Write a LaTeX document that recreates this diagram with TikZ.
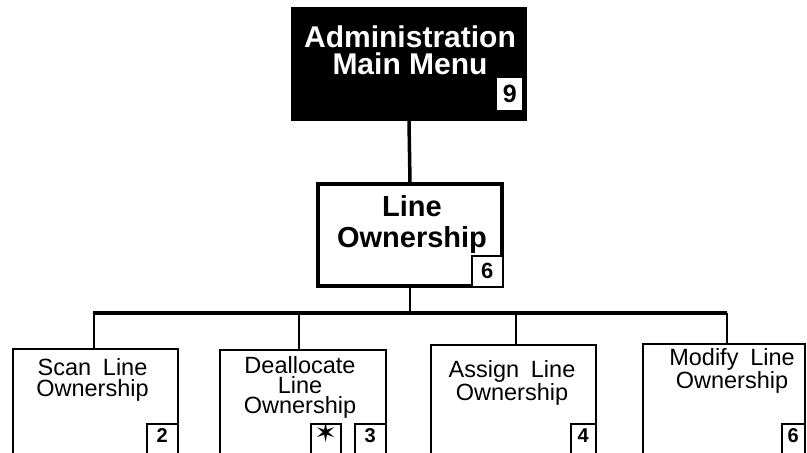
\documentclass[tikz,border=0pt]{standalone}
\usepackage{fontspec}
\setmainfont{Liberation Sans}
\newfontfamily\starfont{DejaVu Sans}
\usetikzlibrary{positioning,calc}
\newcommand\itemfont{\fontsize{23.5}{21}\selectfont\spaceskip=0.5em plus 0.1em\relax}
\tikzset{menubox/.style = {fill=black, inner sep=0pt, minimum width=236pt, minimum height=114pt}}
\tikzset{pagebox/.style = {draw, line width=3.5pt, inner sep=0pt, minimum width=184pt, minimum height=102pt}}
\tikzset{itembox/.style = {draw, line width=1.6pt, inner sep=0pt, minimum height=150pt, anchor=north}}
\tikzset{numbox/.style = {draw, line width=2pt, fill=white, inner sep=0pt, minimum width=31pt, minimum height=31pt}}
\tikzset{numcut/.style = {numbox, minimum height=0pt, inner ysep=4.5pt, text height=14pt, text depth=25pt, anchor=north east, font=\bfseries\fontsize{20}{20}\selectfont}}
\tikzset{bigtitle/.style = {align=center, inner sep=0pt, anchor=base}}
\tikzset{itemtitle/.style = {align=center, inner sep=0pt, anchor=base, font=\itemfont}}

\begin{document}
\begin{tikzpicture}[x=1pt, y=-1pt]
    \useasboundingbox (0,0) rectangle (807,453);
    \clip (0,0) rectangle (807,453);

    % Main menu on top
    \node[menubox] (admin) at (409,64) {};
    \node[bigtitle, text=white, font=\bfseries\fontsize{30}{27}\selectfont] (admintitle) at (410,74) {Administration\\Main Menu};
    \node[numbox, draw=none, minimum width=25pt, minimum height=32pt, anchor=south east,
          font=\bfseries\fontsize{25}{25}\selectfont] (adminnum) at ($(admin.south east)+(-4,-10)$) {9};

    % Line ownership page
    \node[pagebox] (owner) at (410,235) {};
    \node[bigtitle, font=\bfseries\fontsize{29}{30.5}\selectfont] (ownertitle) at (412,247) {Line\\Ownership};
    \node[numbox, anchor=south east, font=\bfseries\fontsize{22}{22}\selectfont] (ownernum) at (owner.south east) {6};

    % Thick path from menu to page
    \draw[line width=3.5pt] (admin.south) -- (owner.north);

    % The four item pages
    \node[itembox, minimum width=165pt] (scan) at (95.5,348) {};
    \node[itembox, minimum width=166pt] (dealloc) at (303,349) {};
    \node[itembox, minimum width=165pt] (assign) at (513.5,344) {};
    \node[itembox, minimum width=162pt] (modify) at (724,343) {};

    \node[itemtitle] (scantitle) at ($(scan.north)+(-3,48.7)$) {Scan Line\\Ownership};
    \node[itemtitle, font=\fontsize{23.5}{20}\selectfont] (dealloctitle) at ($(dealloc.north)+(-3,64)$) {Deallocate\\Line\\Ownership};
    \node[itemtitle] (assigntitle) at ($(assign.north)+(-1.5,56)$) {Assign Line\\Ownership};
    \node[itemtitle] (modifytitle) at ($(modify.north)+(8,45)$) {Modify Line\\Ownership};

    \node[numcut] (scannum) at ($(scan.north east)+(0,75)$) {2};
    \node[numcut] (deallocnum) at ($(dealloc.north east)+(0,74)$) {3};
    \node[numcut, minimum width=30pt, font=\fontsize{27}{27}\starfont] (deallocstar) at ($(deallocnum.north west)+(-12,0)$) {✶};
    \node[numcut, minimum width=25pt] (assignnum) at ($(assign.north east)+(0,79)$) {4};
    \node[numcut, minimum width=23pt] (modifynum) at ($(modify.north east)+(0,80)$) {6};

    % Bar under the page
    \coordinate (bar) at (410,313);
    \draw[line width=2pt] (owner.south) -- (bar);
    \draw[line width=3.5pt] ([xshift=-2.5pt]scan.north |- bar) -- ([xshift=3pt]modify.north |- bar);
    \foreach \item/\dx in {scan/-1.5, dealloc/-4, assign/2.5, modify/3}
        \draw[line width=2.2pt] ([xshift=\dx pt]\item.north) -- ([xshift=\dx pt]\item.north |- bar);
\end{tikzpicture}
\end{document}
